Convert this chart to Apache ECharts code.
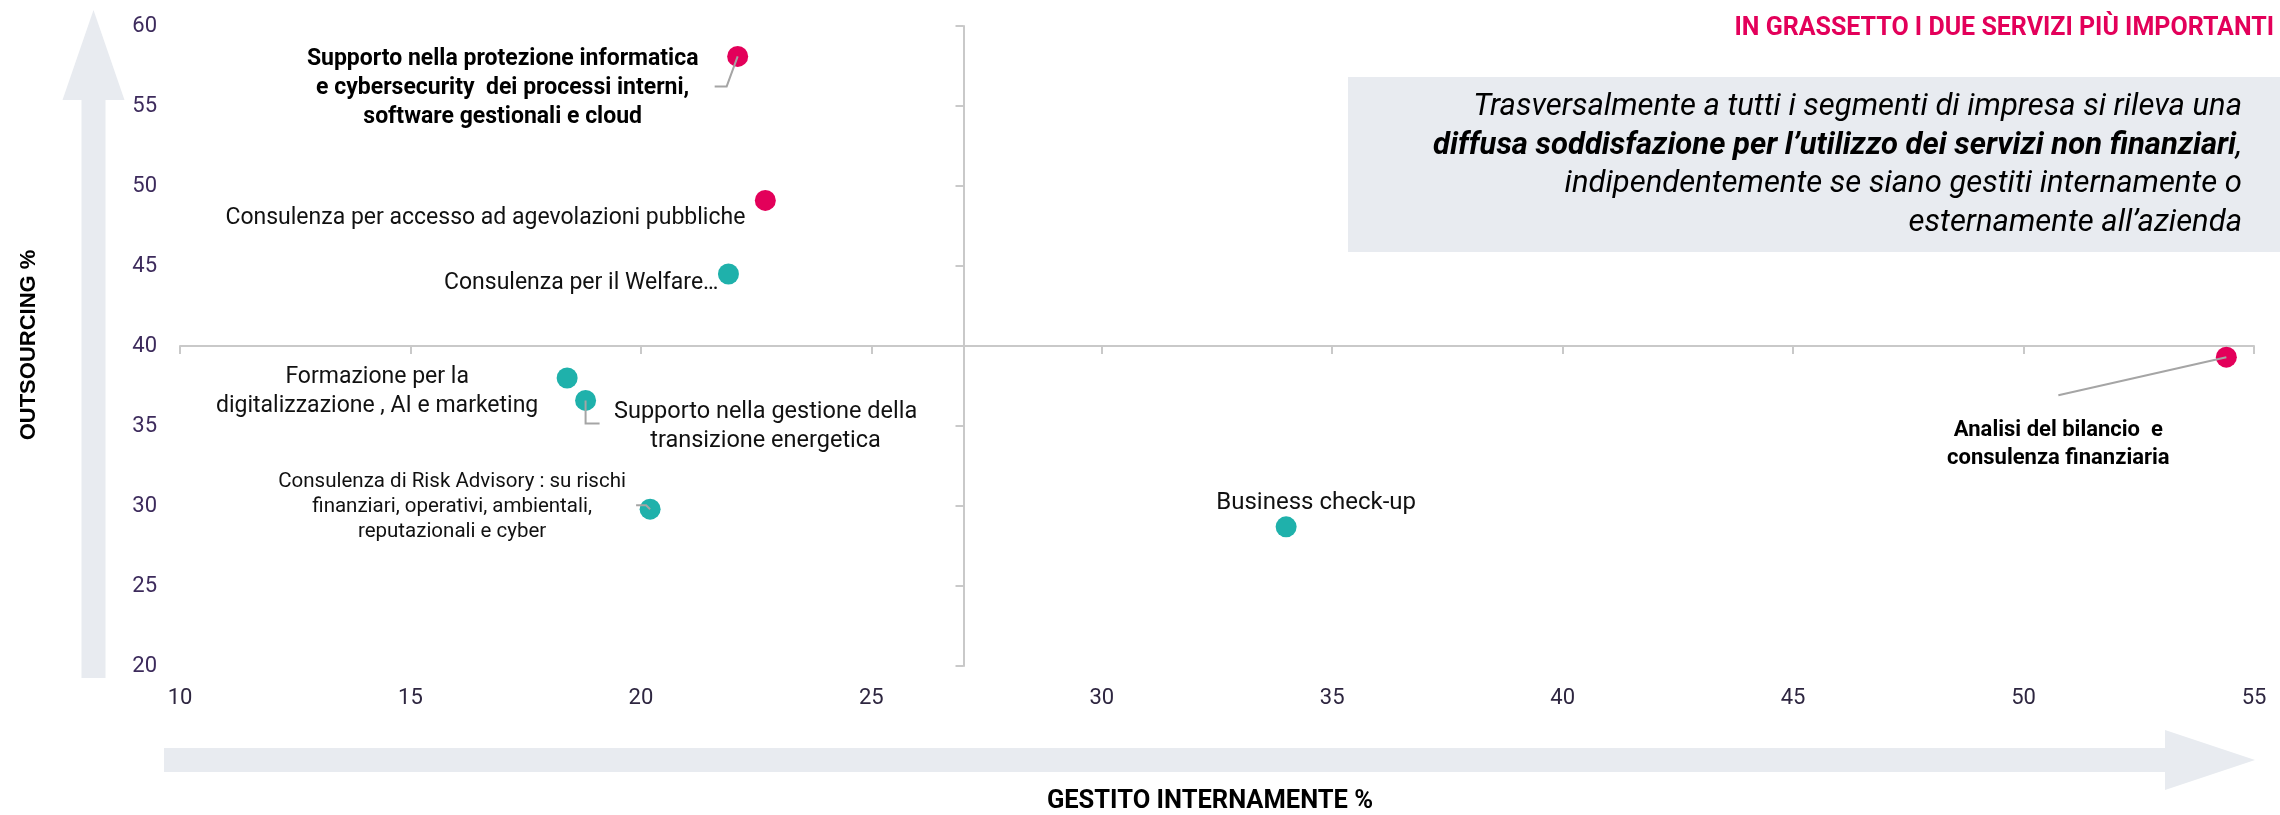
<!DOCTYPE html>
<html>
<head>
<meta charset="utf-8">
<script src="https://cdn.jsdelivr.net/npm/echarts@6/dist/echarts.min.js"></script>
<style>
html,body{margin:0;padding:0;background:#fff;}
#chart{width:2280px;height:815px;}
</style>
</head>
<body>
<div id="chart"></div>
<script>
// ---------------- DATA ----------------
const serviceNames = [
  'Supporto nella protezione informatica\ne cybersecurity  dei processi interni,\nsoftware gestionali e cloud',
  'Consulenza per accesso ad agevolazioni pubbliche',
  'Consulenza per il Welfare…',
  'Formazione per la\ndigitalizzazione , AI e marketing',
  'Supporto nella gestione della\ntransizione energetica',
  'Consulenza di Risk Advisory : su rischi\nfinanziari, operativi, ambientali,\nreputazionali e cyber',
  'Business check-up',
  'Analisi del bilancio  e\nconsulenza finanziaria'
];
const gestitoInternamente = [22.1, 22.7, 21.9, 18.4, 18.8, 20.2, 34.0, 54.4];
const outsourcing        = [58.1, 49.1, 44.5, 38.0, 36.6, 29.8, 28.7, 39.3];
const pinkGroup          = [true, true, false, false, false, false, false, true];
const boldLabel          = [true, false, false, false, false, false, false, true];
const xTicks = [10, 15, 20, 25, 30, 35, 40, 45, 50, 55];
const yTicks = [20, 25, 30, 35, 40, 45, 50, 55, 60];
const crossing = [27, 40]; // x, y where the quadrant lines cross

const xAxisTitle = 'GESTITO INTERNAMENTE %';
const yAxisTitle = 'OUTSOURCING %';
const noteTitle = 'IN GRASSETTO I DUE SERVIZI PIÙ IMPORTANTI';
const boxLines = [
  'Trasversalmente a tutti i segmenti di impresa si rileva una',
  'diffusa soddisfazione per l’utilizzo dei servizi non finanziari',
  'indipendentemente se siano gestiti internamente o',
  'esternamente all’azienda'
];

// ---------------- STYLE / LAYOUT ----------------
const W = 2280, H = 815;
const G = {left: 180, right: 26, top: 26, bottom: 149};
const gridW = W - G.left - G.right, gridH = H - G.top - G.bottom;
const PINK = '#E3005A', TEAL = '#1FB1AB';
const FONT = 'Roboto, "Noto Sans", sans-serif';

const labelStyle = [
  {dx: -235, dy: 32, align: 'center', size: 23, lh: 29},
  {dx: -20, dy: 18, align: 'right', size: 23, lh: 26},
  {dx: -10, dy: 9, align: 'right', size: 23, lh: 26},
  {dx: -190, dy: 14, align: 'center', size: 23, lh: 29},
  {dx: 180, dy: 26, align: 'center', size: 23.5, lh: 28.5},
  {dx: -198, dy: -2, align: 'center', size: 20.5, lh: 25},
  {dx: 30, dy: -24, align: 'center', size: 24, lh: 28},
  {dx: -168, dy: 87, align: 'center', size: 22, lh: 28}
];
const leaderStyle = {
  0: [[0, 0], [-11, 30], [-23, 30]],
  4: [[0, 0], [0, 23], [14, 23]],
  5: [[0, 0], [-4, -4], [-14, -4]],
  7: [[0, 0], [-168, 38]]
};

const xMin = xTicks[0], xMax = xTicks[xTicks.length - 1];
const yMin = yTicks[0], yMax = yTicks[yTicks.length - 1];
const xStep = xTicks[1] - xTicks[0], yStep = yTicks[1] - yTicks[0];

const data = serviceNames.map((n, i) => ({
  name: n,
  value: [gestitoInternamente[i], outsourcing[i]],
  itemStyle: {color: pinkGroup[i] ? PINK : TEAL, opacity: 1},
  label: {
    show: true,
    position: 'inside',
    align: labelStyle[i].align,
    verticalAlign: 'middle',
    offset: [labelStyle[i].dx, labelStyle[i].dy],
    fontSize: labelStyle[i].size,
    lineHeight: labelStyle[i].lh,
    fontWeight: boldLabel[i] ? 'bold' : 'normal',
    color: boldLabel[i] ? '#000' : '#111',
    fontFamily: FONT,
    formatter: '{b}'
  }
}));

const chart = echarts.init(document.getElementById('chart'), null, {renderer: 'canvas'});
const lineColor = '#c9c9c9';
const option = {
  animation: false,
  backgroundColor: '#fff',
  grid: {left: G.left, right: G.right, top: G.top, bottom: G.bottom, containLabel: false},
  xAxis: [
    {type: 'value', min: xMin, max: xMax, interval: xStep, position: 'bottom',
     axisLine: {show: false}, axisTick: {show: false}, splitLine: {show: false},
     axisLabel: {margin: 21, fontSize: 22, color: '#2e2640', fontFamily: FONT}},
    {type: 'value', min: xMin, max: xMax, interval: xStep, position: 'bottom',
     offset: -(crossing[1] - yMin) / (yMax - yMin) * gridH,
     axisLine: {show: true, lineStyle: {color: lineColor, width: 2}},
     axisTick: {show: true, length: 8, lineStyle: {color: lineColor, width: 2}},
     axisLabel: {show: false}, splitLine: {show: false}}
  ],
  yAxis: [
    {type: 'value', min: yMin, max: yMax, interval: yStep, position: 'left',
     axisLine: {show: false}, axisTick: {show: false}, splitLine: {show: false},
     axisLabel: {margin: 23, fontSize: 22, color: '#3d2b5c', fontFamily: FONT}},
    {type: 'value', min: yMin, max: yMax, interval: yStep, position: 'left',
     offset: -(crossing[0] - xMin) / (xMax - xMin) * gridW,
     axisLine: {show: true, lineStyle: {color: lineColor, width: 2}},
     axisTick: {show: true, length: 8, lineStyle: {color: lineColor, width: 2}},
     axisLabel: {show: false}, splitLine: {show: false}}
  ],
  series: [{
    type: 'scatter',
    xAxisIndex: 0, yAxisIndex: 0,
    symbolSize: 21,
    itemStyle: {opacity: 1},
    data: data,
    z: 5
  }]
};
chart.setOption(option);

// ---------- decorations & leader lines ----------
const BG = '#e8ebf0';
const graphics = [
  {type: 'polygon', z: -10, silent: true,
   shape: {points: [[93.5, 10], [124.5, 100], [105.5, 100], [105.5, 678], [81.5, 678], [81.5, 100], [62.5, 100]]},
   style: {fill: BG}},
  {type: 'polygon', z: -10, silent: true,
   shape: {points: [[164, 748], [2165, 748], [2165, 730], [2255, 760], [2165, 790], [2165, 772], [164, 772]]},
   style: {fill: BG}},
  {type: 'rect', z: -10, silent: true, shape: {x: 1348, y: 77, width: 932, height: 175}, style: {fill: BG}},
  {type: 'text', z: 10, silent: true, x: 2242, y: 88,
   style: {
     text: '{n|' + boxLines[0] + '}\n{b|' + boxLines[1] + '}{n|,}\n{n|' + boxLines[2] + '}\n{n|' + boxLines[3] + '}',
     align: 'right', verticalAlign: 'top',
     rich: {
       n: {fontFamily: FONT, fontStyle: 'italic', fontWeight: 'normal', fontSize: 31, lineHeight: 38.5, color: '#111', align: 'right'},
       b: {fontFamily: FONT, fontStyle: 'italic', fontWeight: 'bold', fontSize: 31, lineHeight: 38.5, color: '#000', align: 'right'}
     }
   }},
  {type: 'text', z: 10, silent: true, right: 6, top: 16,
   style: {text: noteTitle, fontFamily: FONT, fontWeight: 'bold', fontSize: 25, fill: PINK}},
  {type: 'text', z: 10, silent: true, x: 1210, y: 802,
   style: {text: xAxisTitle, align: 'center', verticalAlign: 'middle', fontFamily: FONT, fontWeight: 'bold', fontSize: 25.5, fill: '#000'}},
  {type: 'text', z: 10, silent: true, x: 29, y: 345, rotation: Math.PI / 2,
   style: {text: yAxisTitle, align: 'center', verticalAlign: 'middle', fontFamily: '"Liberation Sans", Arial, sans-serif', fontWeight: 'bold', fontSize: 22, fill: '#000'}}
];
Object.keys(leaderStyle).forEach(k => {
  const i = +k;
  const p = chart.convertToPixel({xAxisIndex: 0, yAxisIndex: 0}, [gestitoInternamente[i], outsourcing[i]]);
  graphics.push({
    type: 'polyline', z: 20, silent: true,
    shape: {points: leaderStyle[k].map(o => [p[0] + o[0], p[1] + o[1]])},
    style: {stroke: '#a5a5a5', lineWidth: 2, fill: null}
  });
});
chart.setOption({graphic: {elements: graphics}});
</script>
</body>
</html>
